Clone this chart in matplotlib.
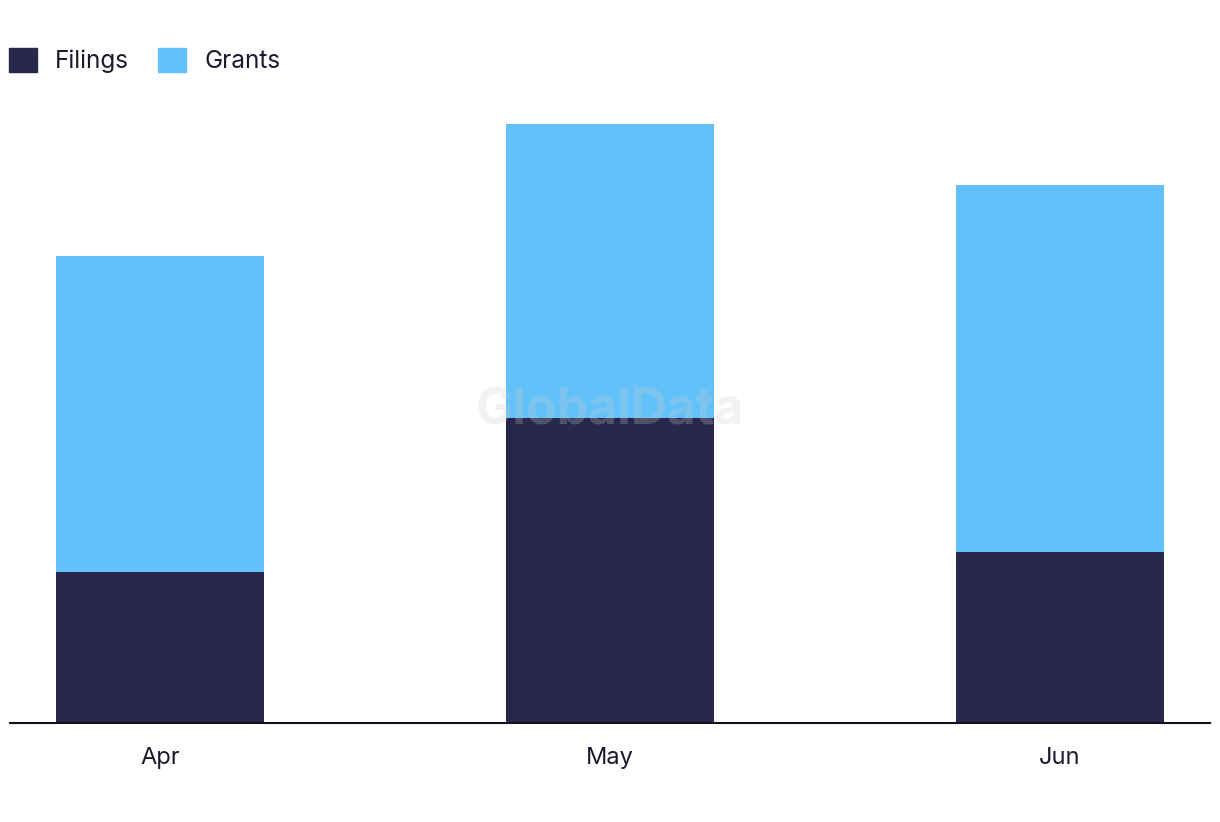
import matplotlib.pyplot as plt
from matplotlib.patches import Patch

months = ['Apr', 'May', 'Jun']
filings = [10.0, 20.2, 11.3]
grants = [20.9, 19.5, 24.3]

navy = '#27284b'
blue = '#62c1f9'

plt.rcParams['font.family'] = ['Inter', 'DejaVu Sans']

fig = plt.figure(figsize=(12.2, 8.22), dpi=100)
ax = fig.add_axes([10 / 1220, (822 - 723) / 822, 1200 / 1220, 623 / 822])

x = range(len(months))
ax.bar(x, filings, width=0.463, color=navy, label='Filings')
ax.bar(x, grants, width=0.463, bottom=filings, color=blue, label='Grants')

ax.set_xlim(-1 / 3, 2 + 1 / 3)
ax.set_ylim(0, 623 / 15.1)
ax.set_xticks(list(x))
ax.set_xticklabels(months, fontsize=17, color='#1a1a2e')
ax.tick_params(axis='x', length=0, pad=17)
ax.set_yticks([])
for s in ['top', 'right', 'left']:
    ax.spines[s].set_visible(False)
ax.spines['bottom'].set_color('#111122')
ax.spines['bottom'].set_linewidth(1.5)

fig.text(0.5, 0.5, 'GlobalData', fontsize=36, fontweight='bold', color='#cccccc',
         alpha=0.25, ha='center', va='center')

handles = [Patch(color=navy), Patch(color=blue)]
fig.legend(handles, ['Filings', 'Grants'], loc='upper left', bbox_to_anchor=(-0.0105, 0.968),
           ncol=2, frameon=False, fontsize=17.5, handlelength=1.15, handleheight=1.1,
           columnspacing=1.2, handletextpad=0.75, labelcolor='#1a1a2e')

fig.savefig('out.png', dpi=100)
